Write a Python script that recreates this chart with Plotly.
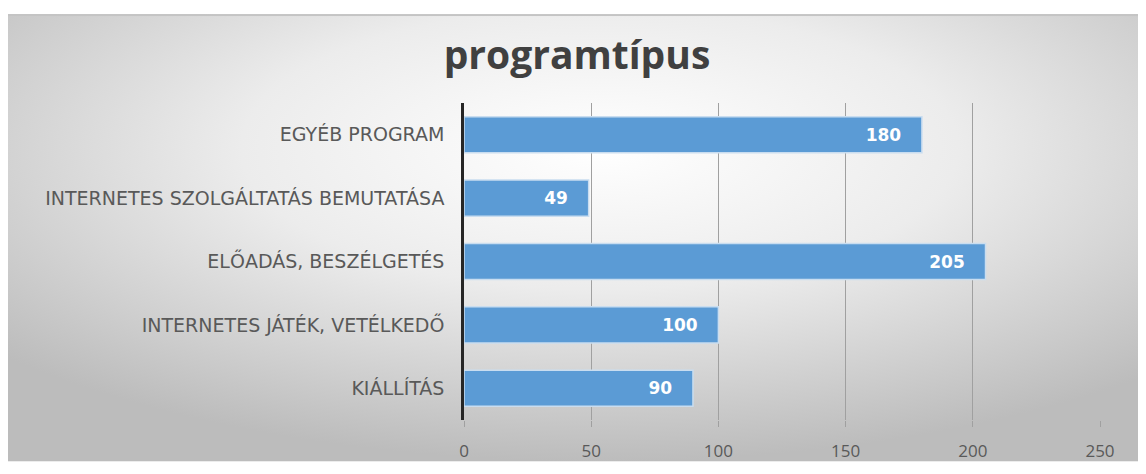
import base64
import plotly.graph_objects as go

categories = ["KIÁLLÍTÁS", "INTERNETES JÁTÉK, VETÉLKEDŐ", "ELŐADÁS, BESZÉLGETÉS",
              "INTERNETES SZOLGÁLTATÁS BEMUTATÁSA", "EGYÉB PROGRAM"]
values = [90, 100, 205, 49, 180]
tick_vals = [0, 50, 100, 150, 200, 250]
title_text = "programtípus"

# page body has an 8px default margin, so the figure is sized to fit inside it
W, H = 1138, 466
L, R, T, B = 456, 46, 95, 43
pw, ph = W - L - R, H - T - B

svg = """<svg xmlns='http://www.w3.org/2000/svg' width='1138' height='463' preserveAspectRatio='none'>
<defs><radialGradient id='g' cx='52%' cy='30%' r='70%' fx='52%' fy='30%'>
<stop offset='0' stop-color='#ffffff'/><stop offset='0.45' stop-color='#ececec'/>
<stop offset='1' stop-color='#bcbcbc'/></radialGradient></defs>
<rect width='1138' height='463' fill='url(#g)'/>
<rect width='1138' height='2' fill='#c4c4c4'/></svg>"""
src = "data:image/svg+xml;base64," + base64.b64encode(svg.encode()).decode()

pad = "\u00a0\u00a0\u00a0"
fig = go.Figure(go.Bar(
    y=categories, x=values, orientation="h",
    marker=dict(color="#5B9BD5", line=dict(color="#c9ddf0", width=1.5)),
    width=0.57,
    text=[str(v) + pad for v in values], textposition="inside", insidetextanchor="end",
    textfont=dict(color="white", size=17, family="DejaVu Sans", weight="bold"),
    cliponaxis=False,
))

px0, py0 = 0, 3
fig.add_layout_image(dict(
    source=src, xref="paper", yref="paper",
    x=(px0 - L) / pw, y=(H - B - py0) / ph,
    sizex=(W - px0) / pw, sizey=(H - py0) / ph,
    xanchor="left", yanchor="top", sizing="stretch", layer="below",
))

fig.update_layout(
    width=W, height=H,
    margin=dict(l=L, r=R, t=T, b=B),
    paper_bgcolor="white", plot_bgcolor="rgba(0,0,0,0)",
    title=dict(text=title_text, x=(577 - 8) / W, xref="container", y=1 - 47 / H, yref="container",
               xanchor="center", yanchor="middle",
               font=dict(family="Open Sans", size=39, color="#404040", weight="bold")),
    showlegend=False,
    xaxis=dict(range=[0, 250], tickvals=tick_vals, showgrid=True, gridcolor="#a0a0a0",
               gridwidth=1.3, zeroline=False, ticks="outside", ticklen=6, tickcolor="#a0a0a0",
               tickwidth=1.3, ticklabelstandoff=10,
               tickfont=dict(family="Open Sans", size=17, color="#595959")),
    yaxis=dict(showline=True, linecolor="#262626", linewidth=2.5, ticks="",
               ticklabelstandoff=13, showgrid=False,
               tickfont=dict(family="DejaVu Sans", size=19, color="#595959")),
)

fig.write_html("out.html")
